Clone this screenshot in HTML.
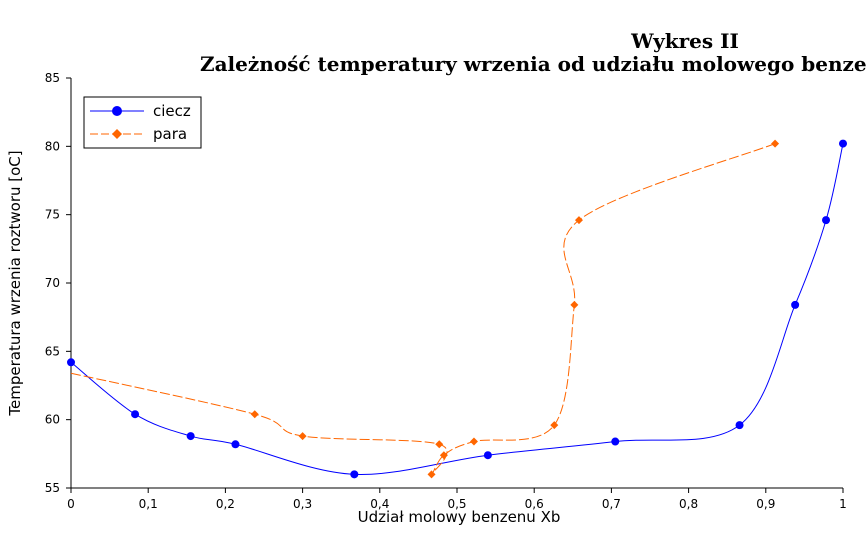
<!DOCTYPE html>
<html><head><meta charset="utf-8"><style>
body{margin:0;background:#fff;width:866px;height:548px;overflow:hidden}
svg{display:block}
text{font-family:"DejaVu Sans","Liberation Sans",sans-serif}
</style></head><body>
<svg id="c" width="866" height="548">
<text x="685" y="48" text-anchor="middle" style="font-family:'DejaVu Serif','Liberation Serif',serif" font-weight="bold" font-size="20">Wykres II</text>
<text x="200" y="71" style="font-family:'DejaVu Serif','Liberation Serif',serif" font-weight="bold" font-size="20">Zależność temperatury wrzenia od udziału molowego benzenu</text>
<g id="axes"></g>
<g id="plot"></g>
<text x="459" y="522" text-anchor="middle" font-size="15">Udział molowy benzenu Xb</text>
<text transform="translate(20,283) rotate(-90)" text-anchor="middle" font-size="15">Temperatura wrzenia roztworu [oC]</text>
<g>
<rect x="84" y="97" width="117" height="51" fill="#fff" stroke="#000"/>
<line x1="90" y1="111" x2="144" y2="111" stroke="#0000ff"/><circle cx="117" cy="111" r="5" fill="#0000ff"/>
<text x="153" y="116" font-size="15">ciecz</text>
<line x1="90" y1="134" x2="144" y2="134" stroke="#ff6600" stroke-dasharray="8,3"/><path d="M117 129 L122 134 L117 139 L112 134Z" fill="#ff6600"/>
<text x="153" y="139" font-size="15">para</text>
</g>
</svg>
<script>
const xTicks=[0,0.1,0.2,0.3,0.4,0.5,0.6,0.7,0.8,0.9,1];
const xTickLabels=["0","0,1","0,2","0,3","0,4","0,5","0,6","0,7","0,8","0,9","1"];
const yTicks=[55,60,65,70,75,80,85];
const cieczX=[0,0.083,0.155,0.213,0.367,0.540,0.705,0.866,0.938,0.978,1.0];
const cieczY=[64.2,60.4,58.8,58.2,56.0,57.4,58.4,59.6,68.4,74.6,80.2];
const paraX=[0,0.238,0.300,0.477,0.467,0.483,0.522,0.626,0.652,0.658,0.912];
const paraY=[63.4,60.4,58.8,58.2,56.0,57.4,58.4,59.6,68.4,74.6,80.2];
const NS="http://www.w3.org/2000/svg";
const X=v=>71+v*772, Y=v=>488-(v-55)*(410/30);
const ax=document.getElementById('axes'), pl=document.getElementById('plot');
function mk(t,a,p){const e=document.createElementNS(NS,t);for(const k in a)e.setAttribute(k,a[k]);(p||ax).appendChild(e);return e;}
let l=mk('line',{x1:71,y1:488,x2:843,y2:488,stroke:'#000'});

l=mk('line',{x1:71,y1:78,x2:71,y2:488,stroke:'#000'});

xTicks.forEach((v,i)=>{mk('line',{x1:X(v),y1:488,x2:X(v),y2:493,stroke:'#000'});
 const t=mk('text',{x:X(v),y:508,'text-anchor':'middle','font-size':12});t.textContent=xTickLabels[i];
 });
yTicks.forEach(v=>{mk('line',{x1:66,y1:Y(v),x2:71,y2:Y(v),stroke:'#000'});
 const t=mk('text',{x:60,y:Y(v)+4,'text-anchor':'end','font-size':12});t.textContent=v;
 });
function spline(xs,ys){const p=xs.map((x,i)=>[X(x),Y(ys[i])]);let d='M'+p[0];
 for(let i=0;i<p.length-1;i++){const a=p[i-1]||p[i],b=p[i],c=p[i+1],e=p[i+2]||c;
  d+=' C'+(b[0]+(c[0]-a[0])/6)+','+(b[1]+(c[1]-a[1])/6)+' '+(c[0]-(e[0]-b[0])/6)+','+(c[1]-(e[1]-b[1])/6)+' '+c;}
 return d;}
let s=mk('path',{d:spline(cieczX,cieczY),fill:'none',stroke:'#0000ff','stroke-width':1},pl);

s=mk('path',{d:spline(paraX,paraY),fill:'none',stroke:'#ff6600','stroke-width':1,'stroke-dasharray':'10,3'},pl);

cieczX.forEach((x,i)=>{const c=mk('circle',{cx:X(x),cy:Y(cieczY[i]),r:4,fill:'#0000ff'},pl);
 });
paraX.forEach((x,i)=>{if(i===0)return;const cx=X(x),cy=Y(paraY[i]);
 const c=mk('path',{d:`M${cx} ${cy-4}L${cx+4} ${cy}L${cx} ${cy+4}L${cx-4} ${cy}Z`,fill:'#ff6600'},pl);
 });
</script>
</body></html>
